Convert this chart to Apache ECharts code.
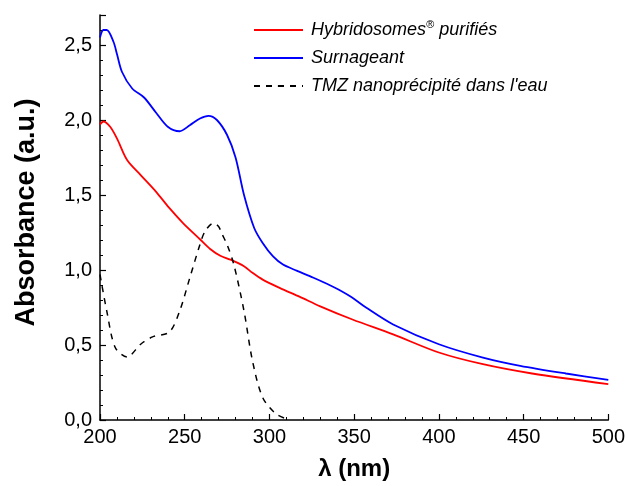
<!DOCTYPE html>
<html>
<head>
<meta charset="utf-8" />
<title>Absorbance</title>
<script src="https://cdn.jsdelivr.net/npm/echarts@6/dist/echarts.min.js"></script>
<style>
  html, body { margin: 0; padding: 0; background: #fff; }
  #main { width: 628px; height: 486px; }
</style>
</head>
<body>
<div id="main"></div>
<script>
// Hybridosomes purifiés (red)
var hybNm  = [200, 202, 206, 210, 216, 224, 233, 241, 249, 259, 265, 271, 277, 285, 290, 296, 306, 318, 330, 349, 373, 400, 426, 455, 500];
var hybAbs = [1.97, 1.99, 1.955, 1.877, 1.733, 1.633, 1.523, 1.412, 1.313, 1.205, 1.14, 1.095, 1.069, 1.025, 0.981, 0.936, 0.881, 0.821, 0.758, 0.67, 0.571, 0.45, 0.372, 0.31, 0.239];

// Surnageant (blue)
var surNm  = [200, 202, 204, 208, 210, 213, 219, 226, 233, 240, 247, 253, 259, 264, 269, 275, 280, 285, 291, 296, 302, 308, 316, 326, 336, 341, 349, 357, 373, 400, 426, 448, 475, 500];
var surAbs = [2.55, 2.60, 2.60, 2.52, 2.44, 2.32, 2.21, 2.15, 2.05, 1.955, 1.925, 1.965, 2.01, 2.028, 2.00, 1.90, 1.75, 1.50, 1.28, 1.18, 1.092, 1.036, 0.996, 0.948, 0.897, 0.868, 0.815, 0.75, 0.637, 0.505, 0.416, 0.361, 0.31, 0.268];

// TMZ nanoprécipité dans l'eau (black dashed)
var tmzNm  = [200, 204, 209, 216, 224, 231, 241, 247, 253, 259, 262, 267, 270, 272, 275, 279, 285, 290, 296, 304, 312];
var tmzAbs = [0.97, 0.726, 0.483, 0.42, 0.505, 0.554, 0.587, 0.726, 0.948, 1.17, 1.258, 1.313, 1.29, 1.24, 1.17, 1.036, 0.726, 0.394, 0.15, 0.04, 0.0];

var seriesNames = ['Hybridosomes® purifiés', 'Surnageant', "TMZ nanoprécipité dans l'eau"];

function pairs(xs, ys) {
  var out = [];
  for (var i = 0; i < xs.length; i++) out.push([xs[i], ys[i]]);
  return out;
}

var font = 'Arial, "Liberation Sans", sans-serif';
var chart = echarts.init(document.getElementById('main'), null, { renderer: 'canvas' });

var option = {
  animation: false,
  backgroundColor: '#fff',
  textStyle: { fontFamily: font, color: '#000' },
  grid: { left: 100, right: 18, top: 15, bottom: 63, containLabel: false },
  legend: {
    orient: 'vertical',
    left: 253,
    top: 19,
    padding: 0,
    // tiny item height so the line icon's marker hides under the stroke
    itemWidth: 49,
    itemHeight: 2,
    itemGap: 6,
    data: seriesNames,
    textStyle: {
      fontFamily: font, fontSize: 18, fontStyle: 'italic', color: '#000',
      lineHeight: 22, padding: [0, 0, 0, 3],
      rich: {
        i: { fontFamily: font, fontSize: 18, fontStyle: 'italic', color: '#000', lineHeight: 22 },
        s: { fontFamily: font, fontSize: 11, fontStyle: 'italic', color: '#000', padding: [0, 0, 10, 0] }
      }
    },
    formatter: function (name) {
      if (name === seriesNames[0]) return '{i|Hybridosomes}{s|®}{i| purifiés}';
      return name;
    }
  },
  xAxis: {
    type: 'value',
    min: 200, max: 500, interval: 50,
    name: 'λ (nm)',
    nameLocation: 'middle',
    nameGap: 37,
    nameTextStyle: { fontFamily: font, fontSize: 24, fontWeight: 'bold', color: '#000' },
    axisLine: { show: true, lineStyle: { color: '#000', width: 1.5 } },
    axisTick: { show: true, inside: true, length: 6, lineStyle: { color: '#000', width: 1.2 } },
    minorTick: { show: true, splitNumber: 5, length: 3, lineStyle: { color: '#000', width: 1 } },
    axisLabel: { fontFamily: font, fontSize: 20, color: '#000', margin: 7 },
    splitLine: { show: false }
  },
  yAxis: {
    type: 'value',
    min: 0, max: 2.7, interval: 0.5,
    name: 'Absorbance (a.u.)',
    nameLocation: 'middle',
    nameGap: 60,
    nameTextStyle: { fontFamily: font, fontSize: 27, fontWeight: 'bold', color: '#000', padding: [0, 0, 0, 10] },
    axisLine: { show: true, lineStyle: { color: '#000', width: 1.5 } },
    axisTick: { show: true, inside: true, length: 6, lineStyle: { color: '#000', width: 1.2 } },
    minorTick: { show: true, splitNumber: 5, length: 3, lineStyle: { color: '#000', width: 1 } },
    axisLabel: {
      fontFamily: font, fontSize: 20, color: '#000', margin: 8, showMaxLabel: false,
      formatter: function (v) { return v.toFixed(1).replace('.', ','); }
    },
    splitLine: { show: false }
  },
  series: [
    {
      name: seriesNames[0], type: 'line', data: pairs(hybNm, hybAbs),
      showSymbol: false, symbol: 'none', smooth: 0.3,
      lineStyle: { color: '#ff0000', width: 1.8 }, itemStyle: { color: '#ff0000' }
    },
    {
      name: seriesNames[1], type: 'line', data: pairs(surNm, surAbs),
      showSymbol: false, symbol: 'none', smooth: 0.3,
      lineStyle: { color: '#0000ff', width: 1.8 }, itemStyle: { color: '#0000ff' }
    },
    {
      name: seriesNames[2], type: 'line', data: pairs(tmzNm, tmzAbs),
      showSymbol: false, symbol: 'none', smooth: 0.3,
      lineStyle: { color: '#000', width: 1.5, type: [6, 6] }, itemStyle: { color: '#000' }
    }
  ]
};

chart.setOption(option);
</script>
</body>
</html>
